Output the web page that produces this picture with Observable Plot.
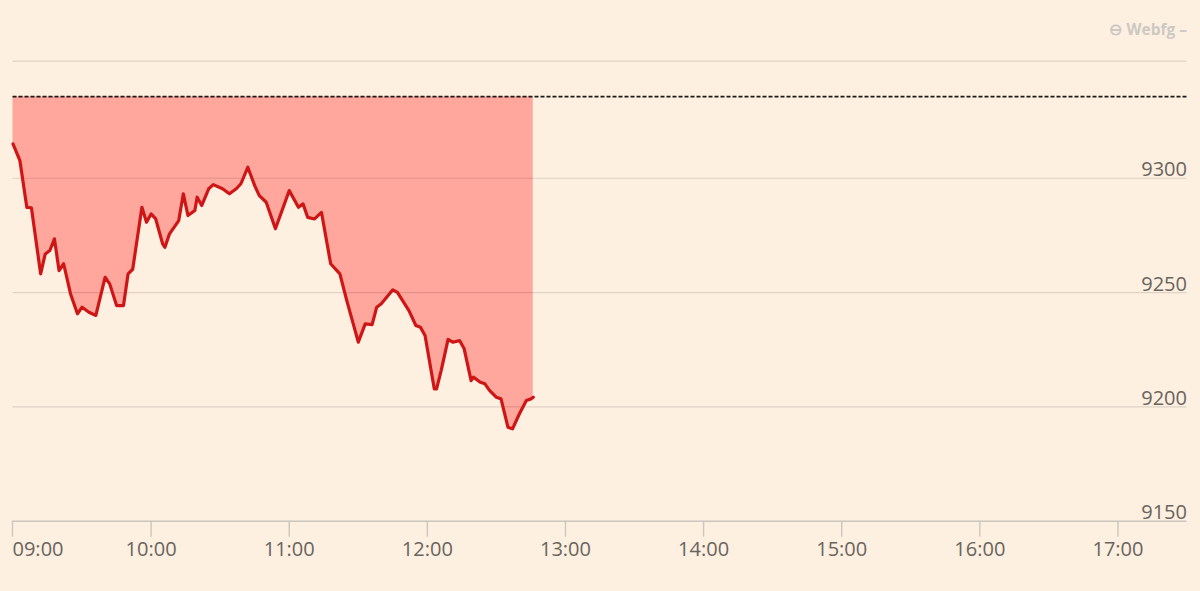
<!DOCTYPE html>
<html>
<head>
<meta charset="utf-8">
<script src="https://cdn.jsdelivr.net/npm/d3@7"></script>
<script src="https://cdn.jsdelivr.net/npm/@observablehq/plot@0.6"></script>
<style>
  html, body { margin: 0; padding: 0; background: #fdf0e1; }
  #wrap { position: relative; width: 1200px; height: 591px; overflow: hidden; }
  #brand { position: absolute; right: 13px; top: 18px; font-family: "Open Sans", sans-serif; font-weight: 700; font-size: 15.5px; color: #cdc8c2; }
</style>
</head>
<body>
<div id="wrap">
  <div id="brand">⊖ Webfg –</div>
</div>
<script>
// Intraday index level (time of day, value)
const times = ["09:00","09:03","09:06","09:08","09:12","09:14","09:16","09:18","09:20","09:22","09:25","09:28","09:30","09:33","09:36","09:40","09:42","09:45","09:48","09:50","09:52","09:56","09:58","10:00","10:02","10:05","10:06","10:08","10:12","10:14","10:16","10:19","10:20","10:22","10:25","10:27","10:31","10:34","10:37","10:39","10:42","10:45","10:47","10:50","10:54","11:00","11:04","11:06","11:08","11:11","11:14","11:18","11:22","11:25","11:30","11:33","11:36","11:38","11:40","11:45","11:47","11:52","11:55","11:57","11:59","12:03","12:04","12:06","12:09","12:11","12:14","12:16","12:19","12:20","12:23","12:25","12:27","12:30","12:32","12:35","12:37","12:40","12:43","12:45","12:46"];
const values = [9315.0,9307.7,9287.3,9287.1,9258.2,9266.9,9268.4,9273.5,9259.6,9262.6,9249.4,9240.7,9243.6,9241.4,9240.0,9256.7,9253.8,9244.3,9244.3,9258.2,9260.2,9287.3,9280.8,9284.4,9282.2,9271.3,9269.8,9275.7,9281.5,9293.2,9283.7,9285.9,9291.7,9288.1,9295.4,9297.2,9295.4,9293.2,9295.4,9297.6,9304.8,9296.8,9292.4,9289.5,9277.9,9294.6,9287.3,9288.8,9282.9,9282.2,9285.1,9262.6,9258.2,9246.5,9228.3,9236.3,9236.0,9243.6,9245.1,9251.2,9250.1,9242.1,9235.6,9234.8,9231.2,9207.9,9207.9,9215.9,9229.5,9228.3,9229.0,9225.4,9211.5,9213.0,9210.8,9210.1,9207.2,9204.2,9203.5,9191.1,9190.4,9197.0,9202.8,9203.5,9204.2];
const prevClose = 9335.7;
const yTicks = [9150, 9200, 9250, 9300];
const yTop = 9351.2;
const xTickLabels = ["09:00","10:00","11:00","12:00","13:00","14:00","15:00","16:00","17:00"];
const xStart = "09:00", xEnd = "17:30";

const parse = d3.utcParse("%H:%M");
const data = times.map((t, i) => ({time: parse(t), value: values[i]}));
const xTicks = xTickLabels.map(parse);
const fmt = d3.utcFormat("%H:%M");
const domainMin = yTicks[0];

const chart = Plot.plot({
  width: 1200,
  height: 591,
  marginLeft: 12.5,
  marginRight: 13.5,
  marginTop: 60.7,
  marginBottom: 70.3,
  style: {background: "#fdf0e1", fontFamily: "'Open Sans', sans-serif", overflow: "visible"},
  x: {type: "utc", domain: [parse(xStart), parse(xEnd)], axis: null},
  y: {domain: [domainMin, yTop], axis: null},
  marks: [
    Plot.areaY(data, {x: "time", y1: prevClose, y2: "value", fill: "#ffa69d", curve: "linear"}),
    Plot.ruleY(yTicks.slice(1).concat([yTop]), {stroke: "#000", strokeOpacity: 0.12, strokeWidth: 1.2}),
    Plot.ruleY([prevClose], {stroke: "#1a1a1a", strokeWidth: 1.6, strokeDasharray: "4,2"}),
    Plot.lineY(data, {x: "time", y: "value", stroke: "#cf1616", strokeWidth: 3.2, strokeLinejoin: "round", curve: "linear"}),
    Plot.ruleY([domainMin], {stroke: "#cbc6c0", strokeWidth: 1.6}),
    Plot.axisX({ticks: xTicks.slice(0, 1), tickFormat: fmt, tickSize: 16, tickPadding: 5, stroke: "#cbc6c0", strokeWidth: 1.4, textAnchor: "start", dx: -0.5, fontSize: 20, fill: "#6a645e", label: null}),
    Plot.axisX({ticks: xTicks.slice(1), tickFormat: fmt, tickSize: 16, tickPadding: 5, stroke: "#cbc6c0", strokeWidth: 1.4, fontSize: 20, fill: "#6a645e", label: null}),
    Plot.text(yTicks, {x: () => parse(xEnd), y: d => d, text: d => String(d), textAnchor: "end", lineAnchor: "bottom", dy: -2, fontSize: 20, fill: "#6a645e"})
  ]
});
document.getElementById("wrap").prepend(chart);
</script>
</body>
</html>
